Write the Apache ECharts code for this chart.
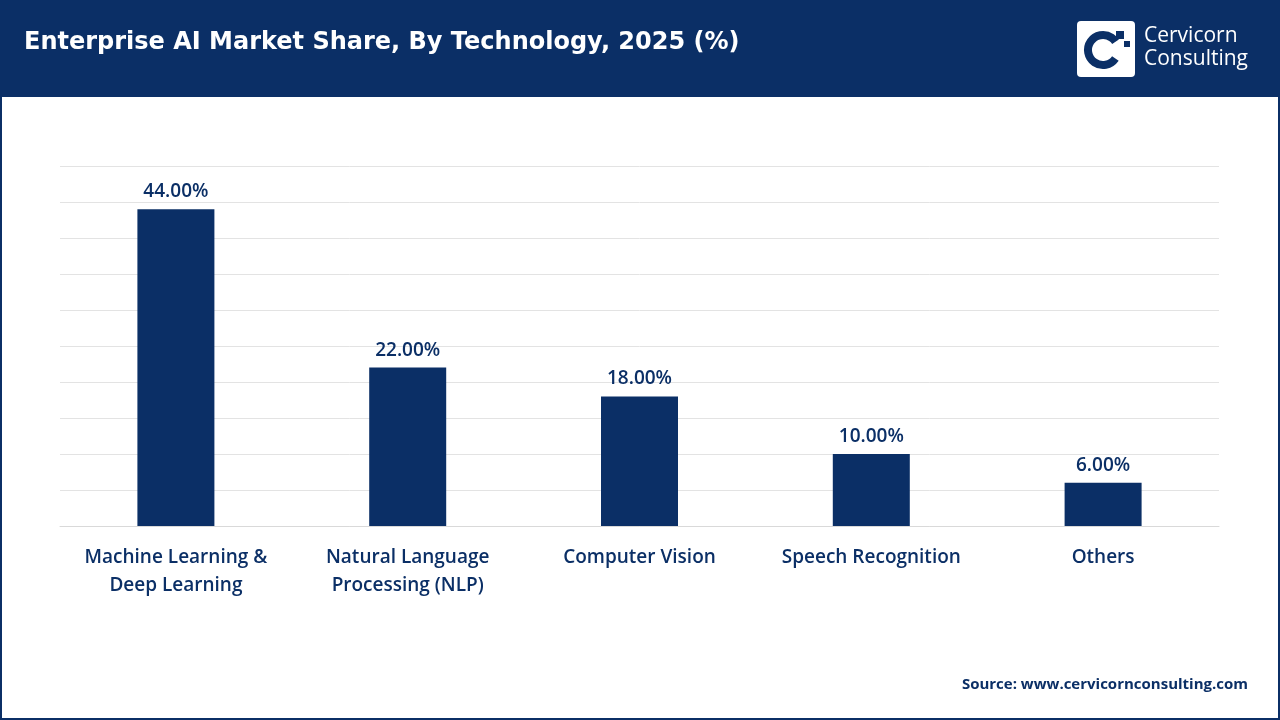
<!DOCTYPE html>
<html><head><meta charset="utf-8">
<script src="https://cdn.jsdelivr.net/npm/echarts@6/dist/echarts.min.js"></script>
<style>html,body{margin:0;padding:0;background:#fff}#c{width:1280px;height:720px}</style>
</head><body><div id="c"></div>
<script>
const categories = ["Machine Learning &\nDeep Learning", "Natural Language\nProcessing (NLP)", "Computer Vision", "Speech Recognition", "Others"];
const values = [44, 22, 18, 10, 6];
const navy = "#0B2F66";
const chart = echarts.init(document.getElementById('c'));
chart.setOption({
  backgroundColor: '#fff',
  graphic: [
    {type:'rect', shape:{x:1,y:1,width:1278,height:718}, style:{fill:'none', stroke:navy, lineWidth:2}, z:0},
    {type:'rect', shape:{x:0,y:0,width:1280,height:97}, style:{fill:navy}, z:1},
    {type:'text', left:24, top:31, style:{text:'Enterprise AI Market Share, By Technology, 2025 (%)', fill:'#fff', font:'bold 24px "DejaVu Sans", sans-serif'}, z:2},
    {type:'rect', shape:{x:1077,y:21,width:58,height:56,r:4}, style:{fill:'#fff'}, z:2},
    {type:'arc', shape:{cx:1103,cy:50,r:15,startAngle:0.6,endAngle:5.7}, style:{stroke:navy, lineWidth:8, fill:'none'}, z:3},
    {type:'rect', shape:{x:1116,y:31,width:8,height:8}, style:{fill:navy}, z:3},
    {type:'rect', shape:{x:1124,y:41,width:6,height:6}, style:{fill:navy}, z:3},
    {type:'text', left:1144, top:25, style:{text:'Cervicorn\nConsulting', fill:'#fff', font:'21px "Open Sans", sans-serif', lineHeight:23}, z:2},
    {type:'text', right:32, top:677, style:{text:'Source: www.cervicornconsulting.com', fill:navy, font:'bold 15px "Open Sans", sans-serif'}, z:2}
  ],
  grid: {left:60, right:61, top:166, bottom:194},
  xAxis: {type:'category', data:categories,
    axisLine:{lineStyle:{color:'#d9d9d9'}}, axisTick:{show:false},
    axisLabel:{color:navy, fontSize:19, fontWeight:600, fontFamily:'"Open Sans", sans-serif', lineHeight:28, margin:18, interval:0}},
  yAxis: {type:'value', min:0, max:50, interval:5, axisLabel:{show:false}, axisLine:{show:false}, axisTick:{show:false},
    splitLine:{lineStyle:{color:'#e3e3e3'}}},
  series: [{type:'bar', data:values, barWidth:77, itemStyle:{color:navy},
    label:{show:true, position:'top', distance:8, color:navy, fontSize:19, fontWeight:600, fontFamily:'"Open Sans", sans-serif',
      formatter: p => p.value.toFixed(2) + '%'}}]
});
</script></body></html>
